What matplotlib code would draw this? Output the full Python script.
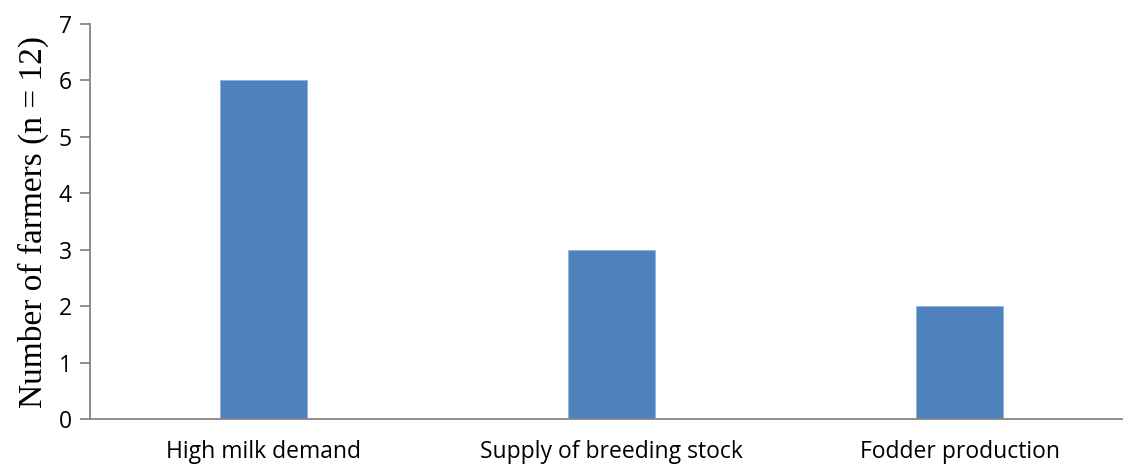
import numpy as np
import matplotlib.pyplot as plt

# Reasons for keeping dairy cattle
categories = ['High milk demand', 'Supply of breeding stock', 'Fodder production']
farmers = [6, 3, 2]

fig = plt.figure(figsize=(11.23, 4.65), dpi=100)
ax = fig.add_axes([90 / 1123, 46 / 465, 1033 / 1123, 395 / 465])

x = np.arange(len(categories))
ax.bar(x, farmers, width=0.25, color='#4F81BD', edgecolor='#8EB4E3', linewidth=0.6)

ax.set_xlim(-0.5, 2.47)
ax.set_ylim(0, 7)
ax.set_yticks(range(0, 8))
ax.set_xticks(x)
ax.set_xticklabels(categories, fontsize=16.5, family='Open Sans')
ax.set_yticklabels([str(v) for v in range(0, 8)], fontsize=16.5, family='Open Sans')
ax.tick_params(axis='x', length=0, pad=15)
ax.tick_params(axis='y', length=7, width=1.3, color='#868686', pad=6)

ax.set_ylabel('Number of farmers (n = 12)', family='Liberation Serif', fontsize=24, labelpad=7)

for side in ['top', 'right']:
    ax.spines[side].set_visible(False)
for side in ['left', 'bottom']:
    ax.spines[side].set_color('#868686')
    ax.spines[side].set_linewidth(1.3)

fig.savefig('out.png', dpi=100)
